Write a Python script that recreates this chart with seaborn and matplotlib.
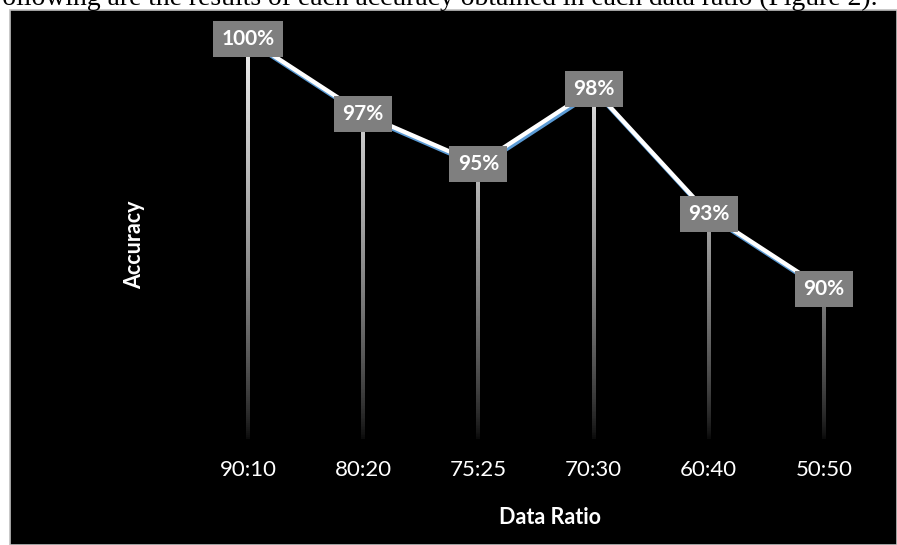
import numpy as np
import pandas as pd
import matplotlib
matplotlib.use("Agg")
import matplotlib.pyplot as plt
import matplotlib.patheffects as pe
from matplotlib.collections import LineCollection
from matplotlib.patches import Rectangle
import seaborn as sns

# Accuracy obtained for each train:test data ratio
ratios = ["90:10", "80:20", "75:25", "70:30", "60:40", "50:50"]
accuracy = [100, 97, 95, 98, 93, 90]
value_labels = ["100%", "97%", "95%", "98%", "93%", "90%"]

caption = "Following are the results of each accuracy obtained in each data ratio (Figure 2)."

sns.set_theme(style="white")
plt.rcParams["font.family"] = ["Lato", "DejaVu Sans"]

W, H = 897, 545
fig = plt.figure(figsize=(W / 100, H / 100), dpi=100, facecolor="white")

# Black chart area with a thin grey frame
fig.patches.append(Rectangle((10 / W, 0), 1 - 10 / W, (H - 10) / H,
                             transform=fig.transFigure, facecolor="black",
                             edgecolor="#BFBFBF", linewidth=1.2, zorder=-10))

# Document sentence sitting just above the chart
fig.text(878 / W, (H - 5) / H, caption, ha="right", va="baseline",
         fontsize=19.9, color="black", family="Liberation Serif")

left, right, bottom, top = 190.4, 881.6, 439, 39
ax = fig.add_axes([left / W, (H - bottom) / H, (right - left) / W, (bottom - top) / H])
ax.set_facecolor("none")
ax.set_zorder(1)

df = pd.DataFrame({"ratio": ratios, "accuracy": accuracy})
x = np.arange(len(ratios))
df["pos"] = x

ymin, ymax = 84, 100
ax.set_xlim(-0.5, len(ratios) - 0.5)
ax.set_ylim(ymin, ymax)

# Drop lines fading from white to black towards the category axis
n = 200
segs, cols = [], []
for xi, yi in zip(x, accuracy):
    ys = np.linspace(ymin + 0.1, yi, n + 1)
    for a, b in zip(ys[:-1], ys[1:]):
        segs.append([(xi, a), (xi, b)])
        f = ((a + b) / 2 - ymin) / (ymax - ymin)
        g = 0.94 * f ** 0.65
        cols.append((g, g, g))
ax.add_collection(LineCollection(segs, colors=cols, linewidths=1.5, zorder=1,
                                 antialiaseds=False, capstyle="projecting"))

# Main line: white stroke with a blue edge offset below
sns.lineplot(data=df, x="pos", y="accuracy", ax=ax, sort=False, color="white",
             linewidth=3.1, zorder=3, clip_on=False,
             path_effects=[pe.SimpleLineShadow(offset=(1.0, -1.8), shadow_color="#5B9BD5",
                                               alpha=1, rho=1),
                           pe.Normal()])

for xi, yi, lab in zip(x, accuracy, value_labels):
    ax.text(xi, yi, lab, ha="center", va="center", color="white", fontsize=15,
            fontweight="bold", zorder=5, clip_on=False,
            bbox=dict(boxstyle="square,pad=0.4", facecolor="#7F7F7F", edgecolor="none"))

ax.set_xticks(x)
ax.set_xticklabels(ratios, color="white", fontsize=16)
ax.tick_params(axis="x", length=0, pad=15)
ax.set_yticks([])
ax.set_xlabel("")
ax.set_ylabel("")
for s in ax.spines.values():
    s.set_visible(False)

ax.text((550 - left) / (right - left), (bottom - 518) / (bottom - top), "Data Ratio",
        transform=ax.transAxes, ha="center", va="center", color="white",
        fontsize=15.5, fontweight="bold")
ax.text((135 - left) / (right - left), (bottom - 245) / (bottom - top), "Accuracy",
        transform=ax.transAxes, ha="center", va="center", color="white",
        fontsize=15.5, fontweight="bold", rotation=90)

fig.savefig("out.png", dpi=100, facecolor="white")
